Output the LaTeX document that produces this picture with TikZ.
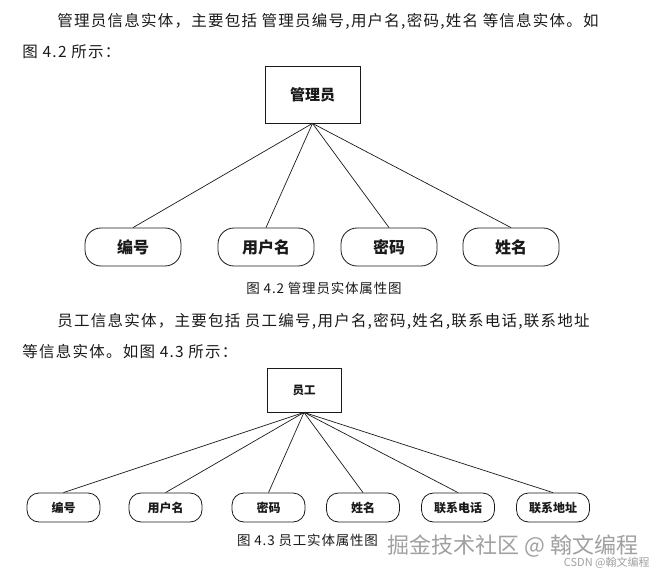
\documentclass[tikz,border=0pt]{standalone}
\usepackage{fontspec}
\setmainfont{Noto Sans CJK SC}
\newfontfamily\parafont[LetterSpace=8]{Noto Sans CJK SC}
\newfontfamily\capfont[LetterSpace=6]{Noto Sans CJK SC}
\usetikzlibrary{positioning}
\definecolor{ink}{HTML}{1A1A1A}
\definecolor{wmark}{HTML}{A0A0A0}
\tikzset{
  every picture/.style={line width=0.8pt, x=1pt, y=-1pt},
  para/.style={anchor=west, inner sep=0pt, text=ink, font=\parafont\fontsize{15.5}{16}\selectfont},
  caption/.style={inner sep=0pt, text=ink, font=\capfont\fontsize{13.5}{14}\selectfont},
  entity/.style={draw=ink, fill=white, inner sep=0pt, text=ink},
  attr/.style={draw=ink, fill=white, inner sep=0pt, text=ink},
  mainent/.style={entity, minimum width=95pt, minimum height=57pt, font=\bfseries\fontsize{15}{15}\selectfont},
  mainattr/.style={attr, rounded corners=16pt, minimum width=96pt, minimum height=38pt, font=\bfseries\fontsize{16}{16}\selectfont},
  subent/.style={entity, minimum width=74pt, minimum height=44pt, font=\bfseries\fontsize{11.5}{12}\selectfont},
  subattr/.style={attr, rounded corners=12pt, minimum width=73pt, minimum height=29pt, font=\bfseries\fontsize{12}{12}\selectfont},
  link/.style={draw=ink, line width=0.7pt},
  watermark/.style={inner sep=0pt, text=wmark},
}

\begin{document}
\begin{tikzpicture}
\useasboundingbox (0,0) rectangle (658,577);

% text above figure 4.2
\node[para] (p1) at (57,21) {管理员信息实体，主要包括 管理员编号,用户名,密码,姓名 等信息实体。如};
\node[para] (p2) at (22,52) {图 4.2 所示：};

% figure 4.2
\node[mainent] (admin) at (312.5,94.5) {管理员};
\node[mainattr] (aid) at (133,247) {编号};
\node[mainattr] (auser) at (266,247) {用户名};
\node[mainattr] (apass) at (389,247) {密码};
\node[mainattr] (aname) at (511,247) {姓名};
\draw[link] (admin.south) -- (aid.north);
\draw[link] (admin.south) -- (auser.north);
\draw[link] (admin.south) -- (apass.north);
\draw[link] (admin.south) -- (aname.north);
\node[caption] (cap1) at (324,288) {图 4.2 管理员实体属性图};

% text above figure 4.3
\node[para] (p3) at (57,321) {员工信息实体，主要包括 员工编号,用户名,密码,姓名,联系电话,联系地址};
\node[para] (p4) at (22,352) {等信息实体。如图 4.3 所示：};

% figure 4.3
\node[subent] (staff) at (304,390) {员工};
\node[subattr] (sid) at (63.5,507.5) {编号};
\node[subattr] (suser) at (165.5,507.5) {用户名};
\node[subattr] (spass) at (268.5,507.5) {密码};
\node[subattr] (sname) at (363,507.5) {姓名};
\node[subattr] (sphone) at (458,507.5) {联系电话};
\node[subattr] (saddr) at (553,507.5) {联系地址};
\draw[link] (staff.south) -- (sid.north);
\draw[link] (staff.south) -- (suser.north);
\draw[link] (staff.south) -- (spass.north);
\draw[link] (staff.south) -- (sname.north);
\draw[link] (staff.south) -- (sphone.north);
\draw[link] (staff.south) -- (saddr.north);
\node[caption] (cap2) at (307.5,540) {图 4.3 员工实体属性图};

% watermarks
\node[watermark, anchor=west, font=\fontsize{22}{22}\selectfont] (wm1) at (387,546) {掘金技术社区 @ 翰文编程};
\node[watermark, anchor=east, font=\fontsize{11}{11}\selectfont] (wm2) at (650,563) {CSDN @翰文编程};
\end{tikzpicture}
\end{document}
